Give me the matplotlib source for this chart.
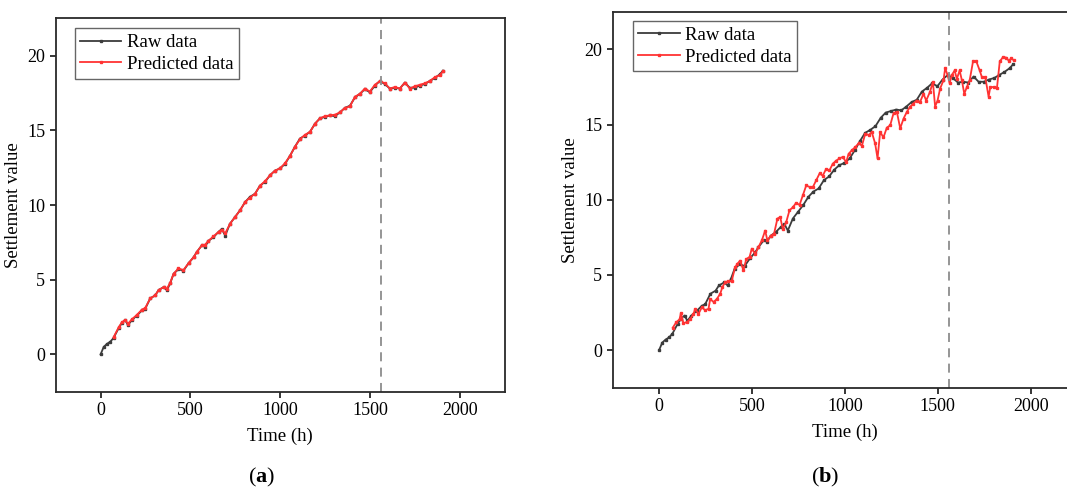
import matplotlib
matplotlib.use("Agg")
import matplotlib.pyplot as plt

plt.rcParams['font.family'] = ['Liberation Serif', 'DejaVu Serif']
plt.rcParams['mathtext.fontset'] = 'custom'
plt.rcParams['mathtext.rm'] = 'Liberation Serif'
plt.rcParams['mathtext.bf'] = 'Liberation Serif:bold'

# raw settlement series (same in both panels)
raw_time = [0, 17, 35, 54, 72, 100, 118, 137, 152, 174, 202, 230, 248, 276, 304,
            322, 350, 369, 387, 406, 433, 461, 489, 517, 535, 563, 581, 600, 628,
            656, 674, 693, 720, 748, 776, 804, 831, 859, 887, 915, 943, 970, 998,
            1026, 1054, 1081, 1109, 1137, 1165, 1193, 1220, 1248, 1276, 1304, 1331,
            1359, 1387, 1415, 1443, 1470, 1498, 1526, 1554, 1581, 1609, 1637, 1665,
            1693, 1720, 1748, 1776, 1804, 1831, 1859, 1887, 1905]
raw_value = [0.0, 0.5, 0.7, 0.85, 1.1, 1.75, 2.1, 2.3, 1.95, 2.3, 2.6, 2.95, 3.05,
             3.75, 3.95, 4.3, 4.5, 4.3, 4.75, 5.4, 5.7, 5.6, 6.1, 6.5, 6.85, 7.3,
             7.2, 7.6, 7.85, 8.2, 8.4, 7.95, 8.75, 9.2, 9.65, 10.2, 10.55, 10.75,
             11.3, 11.55, 12.0, 12.3, 12.45, 12.75, 13.3, 13.9, 14.45, 14.65, 14.9,
             15.45, 15.8, 15.9, 16.0, 15.95, 16.2, 16.5, 16.65, 17.2, 17.45, 17.75,
             17.55, 18.0, 18.3, 18.1, 17.8, 17.85, 17.8, 18.2, 17.85, 17.85, 18.0,
             18.1, 18.3, 18.5, 18.75, 19.0]

# (a) prediction, nearly on top of the raw curve
pred_a_time = raw_time[4:]
pred_a_value = [1.15, 1.8, 2.15, 2.3, 2.05, 2.35, 2.65, 3.0, 3.1, 3.75, 3.95, 4.3,
                4.5, 4.4, 4.8, 5.4, 5.75, 5.65, 6.1, 6.5, 6.85, 7.3, 7.35, 7.6,
                7.9, 8.2, 8.35, 8.1, 8.75, 9.2, 9.65, 10.2, 10.5, 10.75, 11.3, 11.6,
                12.0, 12.3, 12.45, 12.8, 13.3, 13.9, 14.4, 14.7, 14.9, 15.45, 15.8,
                15.95, 16.0, 16.05, 16.2, 16.5, 16.6, 17.25, 17.45, 17.8, 17.6, 18.05,
                18.3, 18.15, 17.8, 17.9, 17.8, 18.2, 17.8, 17.95, 18.05, 18.15, 18.3,
                18.55, 18.7, 18.95]

# (b) prediction, noisier
pred_b_time = [74, 92, 110, 117, 131, 149, 167, 185, 194, 212, 230, 248, 266, 275,
               293, 311, 329, 341, 355, 373, 391, 409, 422, 436, 454, 469, 487, 499,
               517, 535, 553, 571, 583, 601, 619, 637, 652, 666, 684, 702, 720, 738,
               756, 774, 792, 810, 828, 846, 864, 881, 899, 917, 935, 953, 971, 989,
               1007, 1020, 1038, 1056, 1074, 1092, 1110, 1128, 1145, 1163, 1176, 1190,
               1208, 1226, 1244, 1262, 1280, 1298, 1316, 1334, 1352, 1369, 1387, 1405,
               1423, 1438, 1459, 1474, 1486, 1499, 1513, 1531, 1540, 1553, 1564, 1576,
               1591, 1603, 1618, 1630, 1643, 1657, 1672, 1690, 1708, 1726, 1738, 1756,
               1774, 1783, 1801, 1819, 1834, 1852, 1870, 1882, 1895, 1908]
pred_b_value = [1.5, 1.85, 2.05, 2.45, 1.8, 1.85, 2.05, 2.4, 2.75, 2.4, 2.85, 2.65,
                2.75, 3.4, 3.2, 3.4, 3.75, 4.2, 4.5, 4.6, 4.6, 5.5, 5.75, 5.95, 5.3,
                6.05, 6.2, 6.75, 6.4, 6.85, 7.3, 7.95, 7.3, 7.6, 7.75, 8.75, 8.85,
                8.05, 8.5, 9.3, 9.5, 9.8, 9.65, 10.3, 10.95, 10.85, 10.85, 11.3, 11.75,
                11.6, 12.05, 11.95, 12.4, 12.6, 12.75, 12.85, 12.5, 13.05, 13.3, 13.5,
                13.75, 13.6, 14.4, 14.3, 14.5, 13.75, 12.75, 14.5, 14.15, 14.8, 14.95,
                15.75, 15.85, 14.75, 15.4, 15.85, 16.2, 16.4, 16.6, 16.5, 17.05, 16.6,
                17.2, 17.85, 16.2, 16.6, 17.4, 17.95, 18.75, 18.3, 17.75, 18.3, 18.6,
                18.05, 18.6, 17.95, 17.05, 17.5, 17.95, 19.2, 19.2, 18.6, 18.15, 18.15,
                16.85, 17.5, 17.5, 17.45, 19.2, 19.5, 19.45, 19.25, 19.4, 19.3]

split_time = 1560
panels = [
    ('a', pred_a_time, pred_a_value, [0.0522, 0.2006, 0.4211, 0.762], 262, (0.042, 0.973)),
    ('b', pred_b_time, pred_b_value, [0.5742, 0.2088, 0.4352, 0.767], 825, (0.043, 0.975)),
]

fig = plt.figure(figsize=(10.67, 4.9), dpi=100)

for tag, p_time, p_value, rect, label_x, leg_anchor in panels:
    ax = fig.add_axes(rect)
    ax.plot(raw_time, raw_value, '-s', color='#3c3c3c', lw=1.3, ms=1.8,
            label='Raw data')
    ax.plot(p_time, p_value, '-s', color='#ff3333', lw=1.3, ms=1.7,
            label='Predicted data')
    ax.axvline(split_time, color='#8c8c8c', ls=(0, (5, 3.5)), lw=1.3)

    ax.set_xlim(-250, 2250)
    ax.set_ylim(-2.5, 22.5)
    ax.set_xticks([0, 500, 1000, 1500, 2000])
    ax.set_yticks([0, 5, 10, 15, 20])
    ax.tick_params(direction='out', length=4, width=1.1, labelsize=13,
                   top=False, right=False)
    for s in ax.spines.values():
        s.set_linewidth(1.3)
        s.set_color('#2a2a2a')
    ax.set_xlabel('Time (h)', fontsize=13.5, labelpad=6)
    ax.set_ylabel('Settlement value', fontsize=13.5, labelpad=4)

    leg = ax.legend(loc='upper left', bbox_to_anchor=leg_anchor, borderaxespad=0,
                    fontsize=13.5, fancybox=False, framealpha=1,
                    edgecolor='#666666', handlelength=2.2, borderpad=0.3,
                    labelspacing=0.25, handletextpad=0.3, numpoints=1)
    leg.get_frame().set_linewidth(1.0)

    fig.text(label_x / 1067, 1 - 477 / 490, r'($\mathbf{%s}$)' % tag,
             ha='center', va='center', fontsize=16)

fig.savefig('out.png', dpi=100)
